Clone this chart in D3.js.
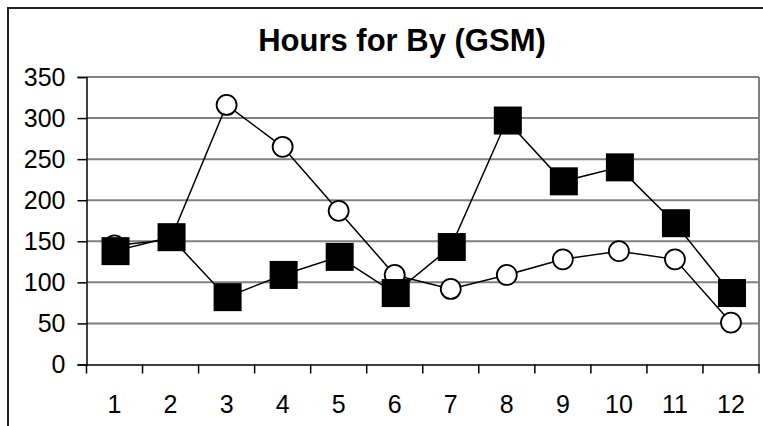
<!DOCTYPE html>
<html>
<head>
<meta charset="utf-8">
<script src="https://cdn.jsdelivr.net/npm/d3@7"></script>
<style>
  body { margin: 0; background: #fff; }
  text { font-family: "Liberation Sans", Arial, sans-serif; fill: #000; }
</style>
</head>
<body>
<svg id="chart" width="763" height="426"></svg>
<script>
// chart data
var months = ["1", "2", "3", "4", "5", "6", "7", "8", "9", "10", "11", "12"];
var circleSeries = [145, 152, 316, 265, 187, 109, 92, 109, 128, 138, 128, 51];
var squareSeries = [138, 155, 82, 109, 131, 87, 143, 297, 223, 240, 172, 87];
var yTicks = [0, 50, 100, 150, 200, 250, 300, 350];
var title = "Hours for By (GSM)";

var svg = d3.select("#chart");

// outer chart frame (runs off the right/bottom edge like the original)
svg.append("rect")
  .attr("x", 8).attr("y", 8)
  .attr("width", 800).attr("height", 450)
  .attr("fill", "#fff")
  .attr("stroke", "#222")
  .attr("stroke-width", 2);

var plotLeft = 86.5, plotRight = 759, plotTop = 77, plotBottom = 364.5;

var x = d3.scaleBand().domain(months).range([plotLeft, plotRight]);
var y = d3.scaleLinear().domain([0, 350]).range([plotBottom, plotTop]);

// title
svg.append("text")
  .attr("x", 402)
  .attr("y", 51)
  .attr("text-anchor", "middle")
  .style("font-size", "31px")
  .style("font-weight", "bold")
  .text(title);

// gridlines
svg.append("g")
  .selectAll("line")
  .data(yTicks.slice(1))
  .enter()
  .append("line")
  .attr("x1", plotLeft).attr("x2", plotRight)
  .attr("y1", function(d) { return y(d); })
  .attr("y2", function(d) { return y(d); })
  .attr("stroke", "#808080")
  .attr("stroke-width", 2);

// right border of plot area
svg.append("line")
  .attr("x1", plotRight).attr("x2", plotRight)
  .attr("y1", plotTop).attr("y2", plotBottom)
  .attr("stroke", "#808080")
  .attr("stroke-width", 2);

// y axis
var yAxis = svg.append("g")
  .attr("transform", "translate(" + plotLeft + ",0)")
  .call(d3.axisLeft(y).tickValues(yTicks).tickSize(9).tickPadding(12));
yAxis.select(".domain").attr("stroke", "#000").attr("stroke-width", 1.5);
yAxis.selectAll(".tick line").attr("stroke", "#000").attr("stroke-width", 1.5);
yAxis.selectAll("text").style("font-size", "25px").attr("fill", "#000");

// x axis, ticks on category boundaries
var xAxis = svg.append("g")
  .attr("transform", "translate(0," + plotBottom + ")")
  .call(d3.axisBottom(x).tickSize(0).tickPadding(31));
xAxis.select(".domain").attr("stroke", "#000").attr("stroke-width", 1.5);
xAxis.selectAll("text").style("font-size", "25px").attr("fill", "#000");

var bounds = months.map(function(m) { return x(m); }).concat([plotRight]);
svg.append("g")
  .selectAll("line")
  .data(bounds)
  .enter()
  .append("line")
  .attr("x1", function(d) { return d; })
  .attr("x2", function(d) { return d; })
  .attr("y1", plotBottom).attr("y2", plotBottom + 9)
  .attr("stroke", "#000")
  .attr("stroke-width", 1.5);

var line = d3.line()
  .x(function(d, i) { return x(months[i]) + x.bandwidth() / 2; })
  .y(function(d) { return y(d); });

// circle series
svg.append("path")
  .datum(circleSeries)
  .attr("d", line)
  .attr("fill", "none")
  .attr("stroke", "#000")
  .attr("stroke-width", 1.5);

svg.append("g")
  .selectAll("circle")
  .data(circleSeries)
  .enter()
  .append("circle")
  .attr("cx", function(d, i) { return x(months[i]) + x.bandwidth() / 2; })
  .attr("cy", function(d) { return y(d); })
  .attr("r", 10)
  .attr("fill", "#fff")
  .attr("stroke", "#000")
  .attr("stroke-width", 1.8);

// square series
svg.append("path")
  .datum(squareSeries)
  .attr("d", line)
  .attr("fill", "none")
  .attr("stroke", "#000")
  .attr("stroke-width", 1.5);

var sq = 28;
svg.append("g")
  .selectAll("rect")
  .data(squareSeries)
  .enter()
  .append("rect")
  .attr("x", function(d, i) { return x(months[i]) + x.bandwidth() / 2 - sq / 2 + 1; })
  .attr("y", function(d) { return y(d) - sq / 2; })
  .attr("width", sq)
  .attr("height", sq)
  .attr("fill", "#000");
</script>
</body>
</html>
